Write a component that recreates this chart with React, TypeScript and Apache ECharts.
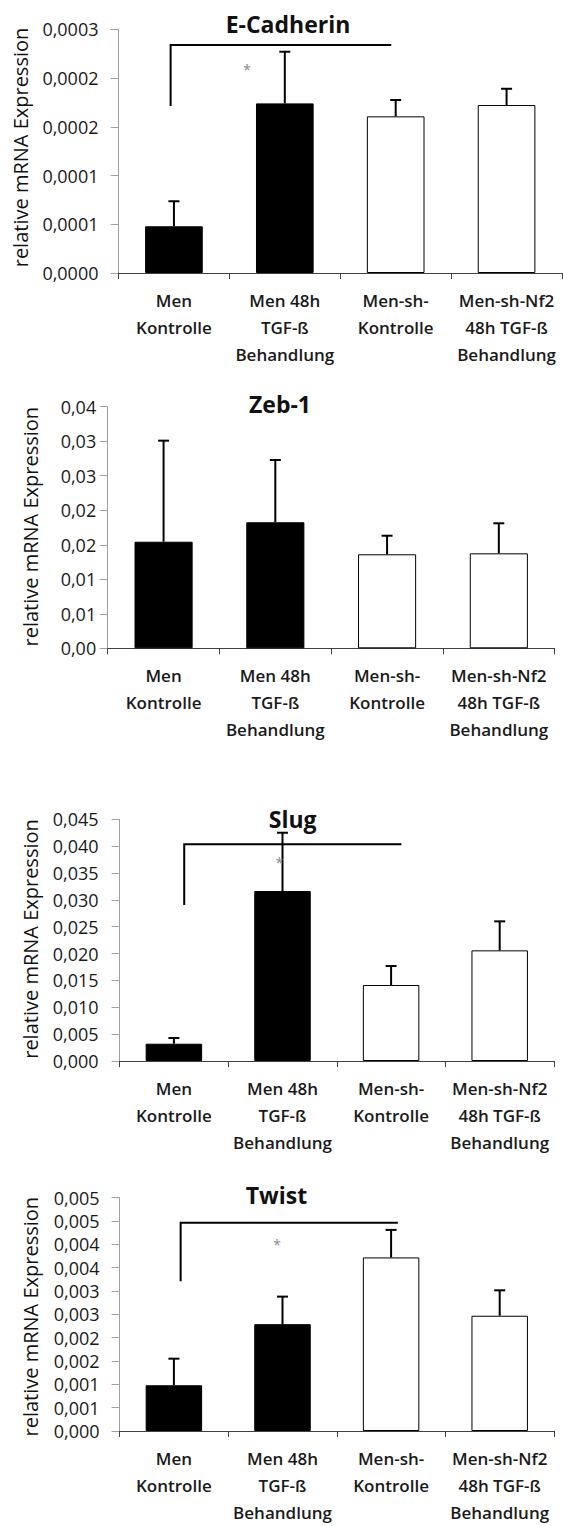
import React, { useEffect, useRef } from "react";
import * as echarts from "echarts";

// ---------- data ----------
const categories = [
  "Men\nKontrolle",
  "Men 48h\nTGF-ß\nBehandlung",
  "Men-sh-\nKontrolle",
  "Men-sh-Nf2\n48h TGF-ß\nBehandlung",
];
const titles = ["E-Cadherin", "Zeb-1", "Slug", "Twist"];

const eCadMean = [0.0000479, 0.000174, 0.0001607, 0.0001723];
const eCadUpper = [0.0000736, 0.000227, 0.0001775, 0.000189];
const zebMean = [0.01544, 0.01826, 0.01362, 0.01376];
const zebUpper = [0.03008, 0.02728, 0.01631, 0.01811];
const slugMean = [0.00322, 0.03165, 0.01415, 0.0206];
const slugUpper = [0.00428, 0.0425, 0.01768, 0.026];
const twistMean = [0.00098, 0.00229, 0.00372, 0.00247];
const twistUpper = [0.00155, 0.00288, 0.00431, 0.003015];

const eCadTicks = ["0,0000", "0,0001", "0,0001", "0,0002", "0,0002", "0,0003"];
const zebTicks = ["0,00", "0,01", "0,01", "0,02", "0,02", "0,03", "0,03", "0,04"];
const slugTicks = ["0,000", "0,005", "0,010", "0,015", "0,020", "0,025", "0,030", "0,035", "0,040", "0,045"];
const twistTicks = ["0,000", "0,001", "0,001", "0,002", "0,002", "0,003", "0,003", "0,004", "0,004", "0,005", "0,005"];

const eCadScale = [0.00025, 0.00005]; // max, interval
const zebScale = [0.035, 0.005];
const slugScale = [0.045, 0.005];
const twistScale = [0.005, 0.0005];

// significance bracket: [fromCat, toCat, topValue, bottomValue, starCat, starValue]
const eCadBracket = [-0.03, 1.96, 0.000234, 0.0001713, 0.66, 0.000209];
const slugBracket = [0.095, 2.095, 0.04034, 0.02904, 0.97, 0.03704];
const twistBracket = [0.062, 2.062, 0.004463, 0.00321, 0.95, 0.003987];

const barFills = ["#000000", "#000000", "#ffffff", "#ffffff"];

const panels = [
  { mean: eCadMean, upper: eCadUpper, ticks: eCadTicks, scale: eCadScale, bracket: eCadBracket },
  { mean: zebMean, upper: zebUpper, ticks: zebTicks, scale: zebScale, bracket: null },
  { mean: slugMean, upper: slugUpper, ticks: slugTicks, scale: slugScale, bracket: slugBracket },
  { mean: twistMean, upper: twistUpper, ticks: twistTicks, scale: twistScale, bracket: twistBracket },
];

// ---------- layout ----------
const layouts = [
  { left: 118.5, top: 29.3, width: 443.5, height: 243.7, labelMargin: 20, titleX: 288, titleY: 24, nameX: 20.5, nameY: 147.5 },
  { left: 107.7, top: 406.7, width: 447, height: 241.6, labelMargin: 11.5, titleX: 280, titleY: 404, nameX: 30.5, nameY: 526.7 },
  { left: 119.6, top: 819.3, width: 434.4, height: 241.7, labelMargin: 21, titleX: 292.6, titleY: 819, nameX: 30.5, nameY: 939 },
  { left: 119.6, top: 1197.7, width: 434.4, height: 238.3, labelMargin: 20, titleX: 276.4, titleY: 1195, nameX: 30.5, nameY: 1316.7 },
];

const FONT = "'Open Sans', 'Noto Sans', sans-serif";

function catPoint(api: any, c: number, v: number) {
  const b = Math.round(c);
  const p = api.coord([b, v]);
  const band = api.coord([1, v])[0] - api.coord([0, v])[0];
  return [p[0] + (c - b) * band, p[1]];
}

function buildOption() {
  const grid: any[] = [];
  const xAxis: any[] = [];
  const yAxis: any[] = [];
  const series: any[] = [];
  const graphic: any[] = [];

  panels.forEach((pn, i) => {
    const L = layouts[i];
    grid.push({ left: L.left, top: L.top, width: L.width, height: L.height });
    xAxis.push({
      type: "category",
      gridIndex: i,
      data: categories,
      axisLine: { lineStyle: { color: "#404040", width: 1 } },
      axisTick: { show: true, length: 6, lineStyle: { color: "#404040" } },
      axisLabel: {
        interval: 0,
        margin: 14,
        fontFamily: FONT,
        fontSize: 17,
        fontWeight: 600,
        color: "#1a1a1a",
        lineHeight: 27,
      },
    });
    const [max, interval] = pn.scale;
    yAxis.push({
      type: "value",
      gridIndex: i,
      min: 0,
      max,
      interval,
      splitLine: { show: false },
      axisLine: { show: true, lineStyle: { color: "#a0a0a0" } },
      axisTick: { show: true, length: 8, lineStyle: { color: "#a0a0a0" } },
      axisLabel: {
        margin: L.labelMargin,
        fontFamily: FONT,
        fontSize: 18,
        color: "#1a1a1a",
        formatter: (v: number) => pn.ticks[Math.round(v / interval)] ?? "",
      },
    });
    series.push({
      type: "bar",
      xAxisIndex: i,
      yAxisIndex: i,
      barWidth: "52%",
      itemStyle: { borderColor: "#000", borderWidth: 1 },
      data: pn.mean.map((v, j) => ({ value: v, itemStyle: { color: barFills[j] } })),
      z: 2,
    });
    series.push({
      type: "custom",
      xAxisIndex: i,
      yAxisIndex: i,
      z: 3,
      encode: { x: 0, y: [1, 2] },
      data: pn.mean.map((m, j) => [j, m, pn.upper[j]]),
      renderItem: (params: any, api: any) => {
        const x = api.value(0);
        const p0 = api.coord([x, api.value(1)]);
        const p1 = api.coord([x, api.value(2)]);
        return {
          type: "group",
          children: [
            { type: "line", shape: { x1: p0[0], y1: p0[1], x2: p1[0], y2: p1[1] }, style: { stroke: "#000", lineWidth: 2 } },
            { type: "line", shape: { x1: p1[0] - 5.5, y1: p1[1], x2: p1[0] + 5.5, y2: p1[1] }, style: { stroke: "#000", lineWidth: 2 } },
          ],
        };
      },
    });
    if (pn.bracket) {
      series.push({
        type: "custom",
        xAxisIndex: i,
        yAxisIndex: i,
        z: 4,
        data: [pn.bracket],
        encode: { x: 0, y: 2 },
        renderItem: (params: any, api: any) => {
          const b = pn.bracket as number[];
          const a = catPoint(api, b[0], b[3]);
          const t0 = catPoint(api, b[0], b[2]);
          const t1 = catPoint(api, b[1], b[2]);
          const s = catPoint(api, b[4], b[5]);
          return {
            type: "group",
            children: [
              { type: "polyline", shape: { points: [a, t0, t1] }, style: { stroke: "#000", lineWidth: 2, fill: null } },
              {
                type: "text",
                x: s[0],
                y: s[1],
                style: { text: "*", fill: "#8a8a8a", font: `14px ${FONT}`, align: "center", verticalAlign: "middle" },
              },
            ],
          };
        },
      });
    }
    graphic.push({
      type: "text",
      x: L.titleX,
      y: L.titleY,
      style: { text: titles[i], fill: "#111", font: `bold 23px ${FONT}`, align: "center", verticalAlign: "middle" },
    });
    graphic.push({
      type: "text",
      x: L.nameX,
      y: L.nameY,
      rotation: Math.PI / 2,
      style: { text: "relative mRNA Expression", fill: "#111", font: `20px ${FONT}`, align: "center", verticalAlign: "middle" },
    });
  });

  return { animation: false, backgroundColor: "#ffffff", grid, xAxis, yAxis, series, graphic };
}

export default function App() {
  const ref = useRef<HTMLDivElement>(null);
  useEffect(() => {
    if (!ref.current) return;
    const chart = echarts.init(ref.current, undefined, { renderer: "svg" });
    chart.setOption(buildOption());
    return () => chart.dispose();
  }, []);
  return (
    <div
      ref={ref}
      style={{ position: "absolute", left: 0, top: 0, width: 563, height: 1526, background: "#fff" }}
    />
  );
}
